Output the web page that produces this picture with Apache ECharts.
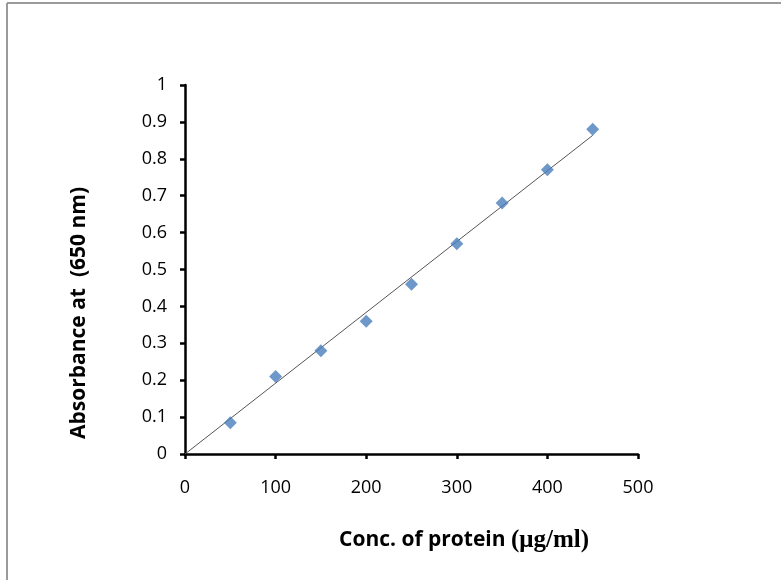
<!DOCTYPE html>
<html><head><meta charset="utf-8">
<script src="https://cdn.jsdelivr.net/npm/echarts@6/dist/echarts.min.js"></script>
<style>html,body{margin:0;padding:0;background:#fff}#c{width:781px;height:580px}</style>
</head><body><div id="c"></div>
<script>
const concentrations = [50, 100, 150, 200, 250, 300, 350, 400, 450];
const absorbance = [0.085, 0.21, 0.28, 0.36, 0.46, 0.57, 0.68, 0.77, 0.88];
const trendX = [0, 450];
const trendY = [0, 0.8635];
const xTicks = [0, 100, 200, 300, 400, 500];
const yTicks = [0, 0.1, 0.2, 0.3, 0.4, 0.5, 0.6, 0.7, 0.8, 0.9, 1];
const xTitle = 'Conc. of protein ';
const xUnit = '(μg/ml)';
const yTitle = 'Absorbance at  (650 nm)';

const chart = echarts.init(document.getElementById('c'), null, {renderer: 'canvas'});
const lbl = {color: '#000', fontFamily: '"Open Sans", Lato, sans-serif', fontSize: 18};
chart.setOption({
  animation: false,
  grid: {left: 185, right: 143, top: 85, bottom: 126},
  graphic: [
    {type: 'line', shape: {x1: 7, y1: 3, x2: 7, y2: 580}, style: {stroke: '#9a9a9a', lineWidth: 2}},
    {type: 'line', shape: {x1: 7, y1: 3, x2: 781, y2: 3}, style: {stroke: '#9a9a9a', lineWidth: 2}},
    {type: 'text', left: 339, top: 528, style: {
      text: '{a|' + xTitle + '}{b|' + xUnit + '}',
      rich: {
        a: {fontFamily: '"Open Sans", Lato, sans-serif', fontWeight: 'bold', fontSize: 21, fill: '#000'},
        b: {fontFamily: '"Liberation Serif", serif', fontWeight: 'bold', fontSize: 25, fill: '#000'}
      }}},
    {type: 'text', x: 79, y: 313, rotation: Math.PI / 2, style: {
      text: yTitle, align: 'center', verticalAlign: 'middle',
      font: 'bold 21px "Open Sans", Lato, sans-serif', fill: '#000'}}
  ],
  xAxis: {
    type: 'value', min: xTicks[0], max: xTicks[xTicks.length - 1], interval: 100,
    axisLine: {lineStyle: {color: '#000', width: 2.5}},
    axisTick: {show: true, length: 5, lineStyle: {color: '#000', width: 2.5}},
    axisLabel: Object.assign({margin: 25}, lbl),
    splitLine: {show: false}
  },
  yAxis: {
    type: 'value', min: yTicks[0], max: yTicks[yTicks.length - 1], interval: 0.1,
    axisLine: {lineStyle: {color: '#000', width: 2.5}},
    axisTick: {show: true, length: 5, lineStyle: {color: '#000', width: 2.5}},
    axisLabel: Object.assign({margin: 18, formatter: v => String(+v.toFixed(1))}, lbl),
    splitLine: {show: false}
  },
  series: [
    {type: 'line', data: trendX.map((x, i) => [x, trendY[i]]), symbol: 'none',
     lineStyle: {color: '#555', width: 1}, z: 2},
    {type: 'scatter', data: concentrations.map((x, i) => [x, absorbance[i]]),
     symbol: 'diamond', symbolSize: 13, itemStyle: {color: '#4a7ebb'}, z: 3}
  ]
});
</script></body></html>
